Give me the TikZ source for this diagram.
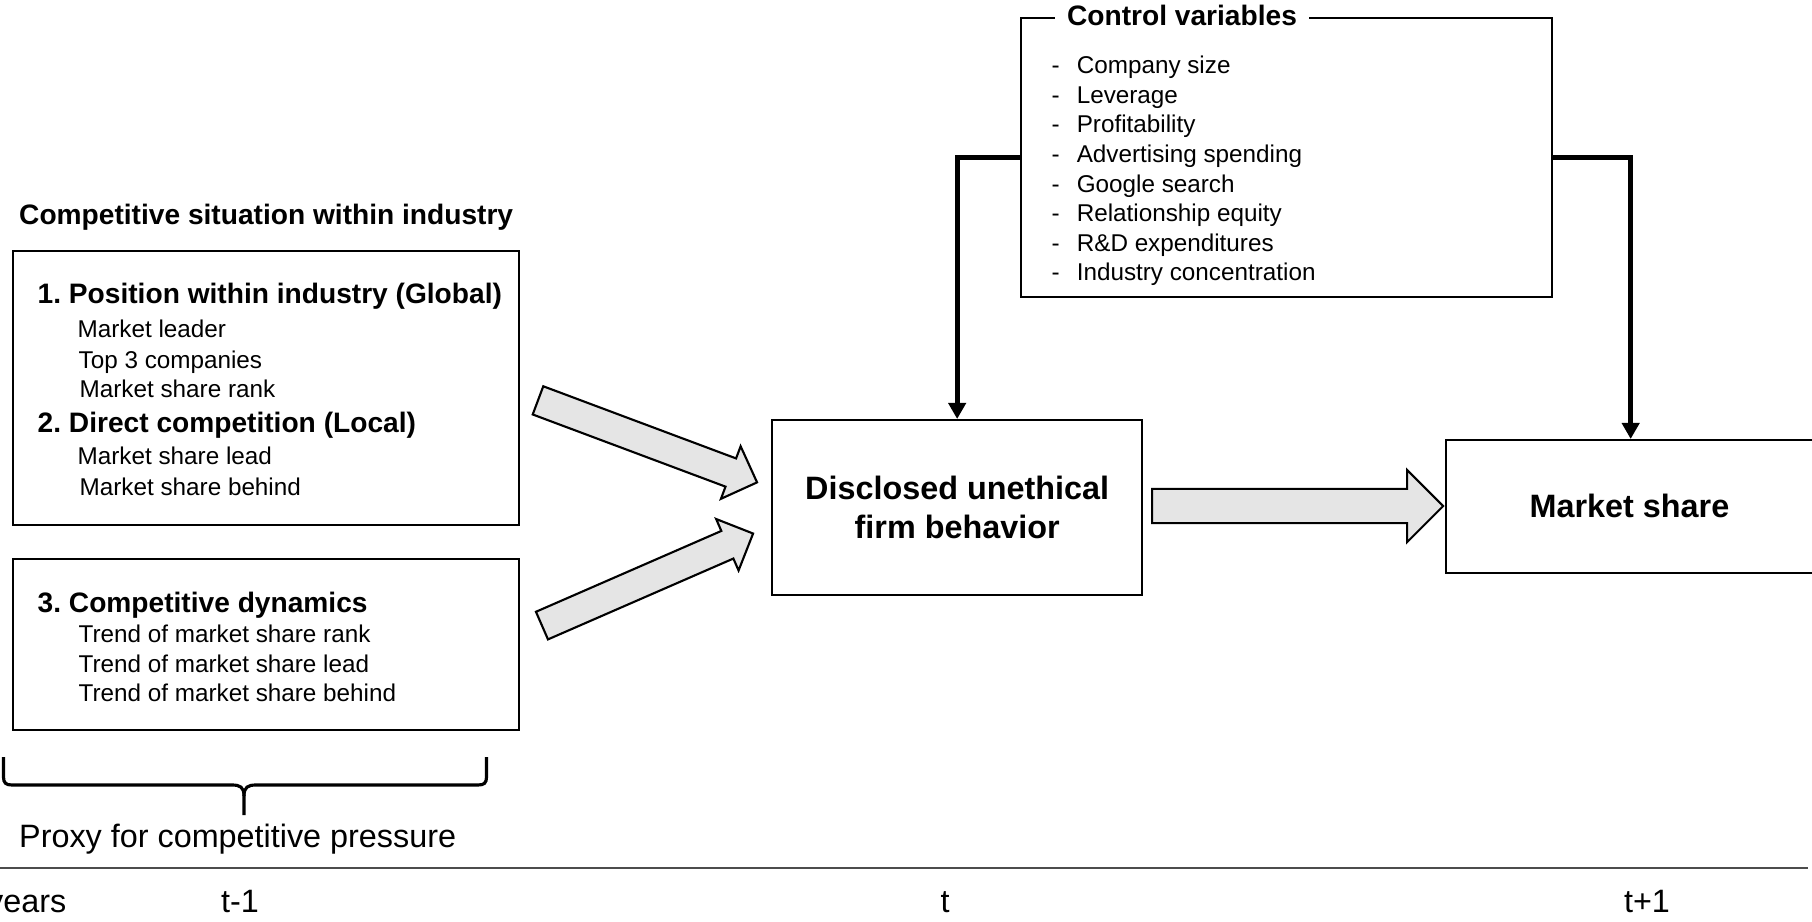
\documentclass[tikz,border=0pt]{standalone}
\usepackage{fontspec}
\setmainfont{Liberation Sans}
\usepackage[]{tikz}
\usetikzlibrary{positioning}
\usetikzlibrary{arrows.meta}
\usetikzlibrary{shapes.arrows}
\tikzset{box/.style={draw,line width=0.6pt,inner sep=0pt}}
\tikzset{head/.style={font=\fontsize{8}{9.6}\selectfont\bfseries,anchor=base west,inner sep=0pt}}
\tikzset{entry/.style={font=\fontsize{6.9}{8.4}\selectfont,anchor=base west,inner sep=0pt}}
\tikzset{big/.style={font=\fontsize{9.2}{11.1}\selectfont,inner sep=0pt}}
\tikzset{fat/.style={single arrow,draw,fill=gray!20,line width=0.6pt,single arrow tip angle=90,single arrow head indent=0pt,anchor=tail}}
\tikzset{feed/.style={line width=1.4pt,-{Triangle[width=0.17cm,length=0.16cm]}}}
\frenchspacing

\begin{document}
\begin{tikzpicture}[x={(0.01cm,0)},y={(0,-0.01cm)}]
            \useasboundingbox (0,0) rectangle (1812,921);
            % left column
            \node[head] (sitTitle) at (18.5,224) {Competitive situation within industry};
            \node[box,anchor=north west,minimum width=5.06cm,minimum height=2.74cm] (posBox) at (12,250) {};
            \node[head] (posHead) at (37,303.6) {1. Position within industry (Global)};
            \node[entry] (leader) at (77,337.2) {Market leader};
            \node[entry] (topThree) at (78,368.1) {Top 3 companies};
            \node[entry] (rank) at (79,397) {Market share rank};
            \node[head] (dirHead) at (37,432) {2. Direct competition (Local)};
            \node[entry] (lead) at (77,464) {Market share lead};
            \node[entry] (behind) at (79,495.2) {Market share behind};
            \node[box,anchor=north west,minimum width=5.06cm,minimum height=1.71cm] (dynBox) at (12,558) {};
            \node[head] (dynHead) at (37,612) {3. Competitive dynamics};
            \node[entry] (trRank) at (78,642) {Trend of market share rank};
            \node[entry] (trLead) at (78,672) {Trend of market share lead};
            \node[entry] (trBehind) at (78,701) {Trend of market share behind};
            % brace
            \draw[line width=0.9pt] (3.5,757) -- (3.5,777) .. controls (3.5,783) and (6,785) .. (12,785) -- (232,785) .. controls (240,785) and (244,787) .. (244,796) -- (244,815);
            \draw[line width=0.9pt] (486.5,757) -- (486.5,777) .. controls (486.5,783) and (484,785) .. (478,785) -- (256,785) .. controls (248,785) and (244,787) .. (244,796);
            \node[big,anchor=base west] (proxy) at (18.5,847) {Proxy for competitive pressure};
            % middle and right
            \node[box,anchor=north west,minimum width=3.70cm,minimum height=1.75cm,font=\fontsize{9.2}{11.1}\selectfont\bfseries,align=center] (disc) at (771,419) {Disclosed unethical\\firm behavior};
            \node[box,anchor=north west,minimum width=3.69cm,minimum height=1.33cm] (share) at (1445,439) {};
            \node[big,font=\fontsize{9.2}{11.1}\selectfont\bfseries] (shareText) at (1629.5,506) {Market share};
            \node[box,anchor=north west,minimum width=5.31cm,minimum height=2.79cm] (ctrl) at (1020,17) {};
            \node[font=\fontsize{8}{9.6}\selectfont\bfseries,fill=white,inner xsep=0.12cm,inner ysep=0pt] (ctrlTitle) at (1182,15) {Control variables};
            \node[entry] (size) at (1051,73.7) {-\hspace{0.17cm}Company size};
            \node[entry] (lev) at (1051,103.3) {-\hspace{0.17cm}Leverage};
            \node[entry] (prof) at (1051,132.9) {-\hspace{0.17cm}Profitability};
            \node[entry] (adv) at (1051,162.5) {-\hspace{0.17cm}Advertising spending};
            \node[entry] (goog) at (1051,192.1) {-\hspace{0.17cm}Google search};
            \node[entry] (rel) at (1051,221.7) {-\hspace{0.17cm}Relationship equity};
            \node[entry] (rnd) at (1051,251.3) {-\hspace{0.17cm}R\&D expenditures};
            \node[entry] (conc) at (1051,280.9) {-\hspace{0.17cm}Industry concentration};
            \draw[feed] (ctrl.west) -| (disc.north);
            \draw[feed] (ctrl.east) -| (share.north);
            % block arrows
            \coordinate (upTail) at (537,400);
            \coordinate (lowTail) at (541,626);
            \coordinate (midTail) at (1151,506);
            \node[fat,inner sep=0.14cm,single arrow head extend=0.13cm,minimum height=2.338cm,rotate=-20.52] (upArrow) at (upTail) {};
            \node[fat,inner sep=0.14cm,single arrow head extend=0.13cm,minimum height=2.302cm,rotate=23.56] (lowArrow) at (lowTail) {};
            \node[fat,inner sep=0.16cm,single arrow head extend=0.19cm,minimum height=2.91cm] (midArrow) at (midTail) {};
            % time axis
            \draw[line width=0.4pt,black!70] (0,868) -- (1808,868);
            \node[big,anchor=base east] (years) at (67,912) {years};
            \node[big,anchor=base] (tPrev) at (240,912) {t-1};
            \node[big,anchor=base] (tNow) at (945,912) {t};
            \node[big,anchor=base] (tNext) at (1647,912) {t+1};
        \end{tikzpicture}
\end{document}
